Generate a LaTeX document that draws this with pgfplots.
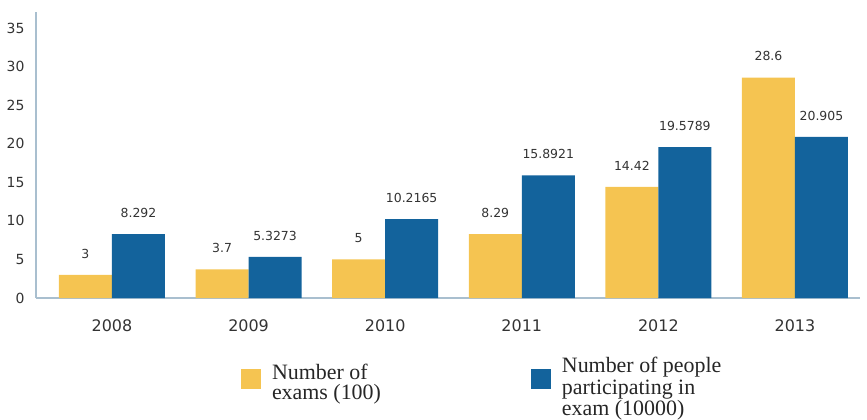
\documentclass[border=0pt]{standalone}
\usepackage{fontspec}
\setmainfont{DejaVu Sans}
\newfontfamily\legfont{Liberation Serif}
\usepackage{pgfplots}
\usepackage{pgfplotstable}
\pgfplotsset{compat=1.18}
\definecolor{cyel}{HTML}{F5C451}
\definecolor{cblu}{HTML}{13639C}
\definecolor{caxis}{HTML}{A9BFCF}
\definecolor{ctxt}{HTML}{333333}
\pgfplotstableread{
x y m
0 3 3
1 3.7 3.7
2 5 5
3 8.29 8.29
4 14.42 14.42
5 28.6 28.6
}\exams
\pgfplotstableread{
x y m
0 8.292 8.292
1 5.3273 5.3273
2 10.2165 10.2165
3 15.8921 15.8921
4 19.5789 19.5789
5 20.905 20.905
}\people
\begin{document}
\begin{tikzpicture}
\begin{axis}[
  name=ax,
  scale only axis, width=824bp, height=286bp,
  xmin=-0.556, xmax=5.476, ymin=0, ymax=37.1,
  ybar=0pt, bar width=53bp,
  axis lines=left,
  axis line style={-, draw=caxis, line width=1.3bp},
  xtick={0,1,2,3,4,5},
  xticklabels={2008,2009,2010,2011,2012,2013},
  ytick={0,5,...,35},
  major tick length=0pt,
  /pgf/number format/assume math mode=true,
  yticklabel style={font=\fontsize{14}{14}\selectfont, text=ctxt, xshift=-8bp},
  xticklabel style={font=\fontsize{16}{16}\selectfont, text=ctxt, yshift=-18bp},
  point meta=explicit symbolic,
  nodes near coords,
  nodes near coords style={font=\fontsize{12.5}{12.5}\selectfont, text=ctxt, yshift=13bp},
  legend columns=2,
  legend image code/.code={\fill[#1] (0bp,-32bp) rectangle (20bp,-12bp);},
  legend style={draw=none, fill=none, at={(axis description cs:0.2488,-0.208)},
    anchor=north west, inner sep=0pt, outer sep=0pt,
    cells={anchor=north west},
    nodes={inner sep=0pt, align=left, font=\legfont\fontsize{22}{21.5}\selectfont, text=black!85},
    /tikz/every odd column/.append style={column sep=11bp},
    /tikz/every even column/.append style={column sep=150bp}},
]
\addplot[fill=cyel, draw=none] table[x=x, y=y, meta=m] {\exams};
\addlegendentry[yshift=-7bp, font=\legfont\fontsize{22}{20}\selectfont]{Number of\\exams (100)}
\addplot[fill=cblu, draw=none] table[x=x, y=y, meta=m] {\people};
\addlegendentry{Number of people\\participating in\\exam (10000)}
\end{axis}
\path ([shift={(-36bp,-122bp)}]ax.south west) rectangle ([shift={(7bp,12bp)}]ax.north east);
\end{tikzpicture}
\end{document}
